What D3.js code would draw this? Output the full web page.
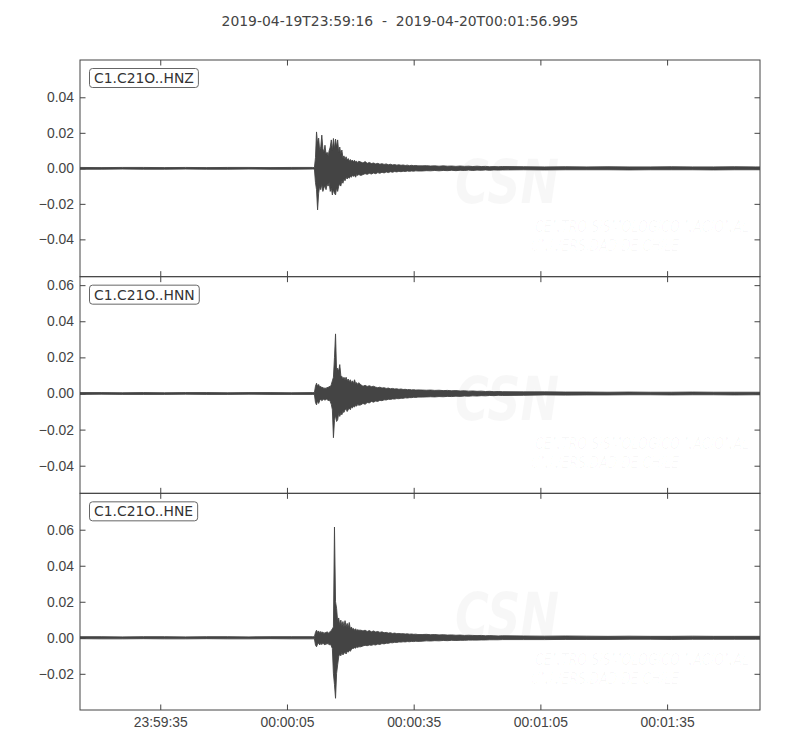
<!DOCTYPE html>
<html>
<head>
<meta charset="utf-8">
<script src="https://cdn.jsdelivr.net/npm/d3@7"></script>
<style>
    body { margin: 0; background: #fff; }
    svg { font-family: "DejaVu Sans", sans-serif; }
    .tick text { fill: #444; font-size: 13.9px; }
    .tick line { stroke: #444; stroke-width: 1; }
    .spine { fill: none; stroke: #444; stroke-width: 1; }
</style>
</head>
<body>
<div id="chart"></div>
<script>
// Seismogram, 3 components

const title = '2019-04-19T23:59:16  -  2019-04-20T00:01:56.995';
const channels = ['C1.C21O..HNZ', 'C1.C21O..HNN', 'C1.C21O..HNE'];
const duration = 160.995;                 // seconds after 23:59:16
const timeTicks = [19, 49, 79, 109, 139];
const timeLabels = ['23:59:35', '00:00:05', '00:00:35', '00:01:05', '00:01:35'];
const yRanges = [[-0.061, 0.061], [-0.0553, 0.0647], [-0.0401, 0.0802]];
const yTicks = [
    [-0.04, -0.02, 0, 0.02, 0.04],
    [-0.04, -0.02, 0, 0.02, 0.04, 0.06],
    [-0.02, 0, 0.02, 0.04, 0.06]
];

// sample times (s), denser where the shaking is
const times = [
    0, 5, 10, 15, 20, 25, 30, 35, 40, 45, 50, 55,
    55.5, 55.75, 56, 56.25, 56.5, 56.75, 57, 57.25, 57.5, 57.75, 58, 58.25, 58.5, 58.75,
    59, 59.25, 59.5, 59.75, 60, 60.25, 60.5, 60.75, 61, 61.25, 61.5, 61.75, 62, 62.25,
    62.5, 62.75, 63, 63.25, 63.5, 63.75, 64, 64.25, 64.5, 64.75, 65, 65.25, 65.5, 65.75, 66,
    66.5, 67, 67.5, 68, 68.5, 69, 69.5, 70, 70.5, 71, 71.5, 72, 72.5, 73, 73.5, 74,
    74.5, 75, 75.5, 76, 76.5, 77, 77.5, 78, 78.5, 79, 79.5, 80,
    81, 82, 83, 84, 85, 86, 87, 88, 89, 90, 91, 92, 93, 94, 95, 96, 97, 98, 99, 100,
    105, 110, 115, 120, 125, 130, 135, 140, 145, 150, 155, 160, 160.995
];

// envelope max / min per sample, in units of 1e-3
const hnzHi = [
    0.5, 0.4, 0.5, 0.5, 0.4, 0.5, 0.4, 0.5, 0.5, 0.4, 0.5, 0.5,
    0.4, 6, 20.5, 14, 17, 10, 12, 18.7, 11, 9, 13, 8, 9, 7, 10, 12, 16, 10, 16.8, 11, 16.5, 12,
    16, 9, 12, 8, 10.3, 6, 7, 5, 6.5, 4.5, 5.5, 4, 5, 4, 4.7, 3.5, 4.5, 3.5, 4, 3.2, 4,
    3.5, 3, 3.8, 2.8, 3.3, 2.7, 3, 2.5, 2.8, 2.3, 2.6, 2.2, 2.5, 2, 2.3, 1.9, 2.1, 1.8, 2, 1.7,
    1.9, 1.6, 1.8, 1.5, 1.7, 1.5, 1.6, 1.4,
    1.4, 1.5, 1.3, 1.4, 1.2, 1.4, 1.2, 1.3, 1.1, 1.3, 1.1, 1.2, 1.0, 1.2, 1.0, 1.1, 0.9, 1.0, 0.9, 1.0,
    0.9, 0.8, 0.9, 0.8, 0.9, 0.8, 0.8, 0.9, 0.8, 0.8, 0.9, 0.8, 0.8
];
const hnzLo = [
    -0.5, -0.5, -0.4, -0.5, -0.5, -0.4, -0.5, -0.5, -0.4, -0.5, -0.5, -0.4,
    -0.4, -8, -12, -23.4, -14, -10, -12, -9, -13, -11, -10, -12, -9, -10, -8, -13, -11, -15, -12,
    -14, -15, -11, -13, -10, -9, -10, -7, -8.4, -6, -7, -5, -6, -5, -5.6, -4.5, -5, -4, -4.5, -4,
    -5, -3.5, -4, -3.5,
    -4, -3.5, -3, -3.4, -2.8, -3.2, -2.6, -3, -2.4, -2.8, -2.2, -2.6, -2, -2.4, -1.9, -2.2, -1.8,
    -2, -1.7, -1.9, -1.6, -1.8, -1.5, -1.7, -1.5, -1.6, -1.4, -1.5,
    -1.5, -1.3, -1.4, -1.2, -1.4, -1.2, -1.3, -1.1, -1.3, -1.1, -1.2, -1.0, -1.2, -1.0, -1.1, -0.9,
    -1.1, -0.9, -1.0, -0.9,
    -0.8, -0.9, -0.8, -0.8, -0.8, -0.9, -0.8, -0.8, -0.8, -0.9, -0.8, -0.8, -0.8
];
const hnnHi = [
    0.5, 0.5, 0.4, 0.5, 0.4, 0.5, 0.5, 0.4, 0.5, 0.5, 0.4, 0.5,
    0.5, 4, 5.7, 4, 5, 3.5, 4, 3, 3.5, 2.5, 3.2, 2.5, 3.5, 3, 4, 3.5, 5, 7, 9, 20, 33, 12, 14,
    12.2, 16, 10, 9.4, 8, 9, 7.5, 9, 7, 8, 6.5, 7.6, 6, 7, 5.5, 7.6, 5.5, 6, 5, 6,
    4.8, 4, 4.5, 3.9, 4.3, 3.8, 4, 3.5, 3.2, 3.5, 3, 3.2, 2.8, 3, 2.6, 2.8, 2.5, 2.6, 2.3, 2.5,
    2.2, 2.3, 2.1, 2.2, 2, 2.1, 1.9, 2,
    1.9, 1.8, 1.9, 1.7, 1.8, 1.6, 1.7, 1.5, 1.6, 1.4, 1.5, 1.3, 1.4, 1.2, 1.3, 1.1, 1.2, 1, 1.1, 1,
    0.9, 0.9, 0.8, 0.8, 0.7, 0.8, 0.7, 0.7, 0.8, 0.7, 0.7, 0.7, 0.7
];
const hnnLo = [
    -0.5, -0.4, -0.5, -0.5, -0.5, -0.4, -0.5, -0.5, -0.4, -0.5, -0.5, -0.5,
    -0.5, -5, -6.3, -4, -5.5, -4, -3, -4, -3.5, -3, -3.8, -3, -3.2, -4, -3.5, -4.5, -6, -9, -24.5,
    -15, -12, -15.5, -14.6, -11, -12.7, -11, -11.8, -10, -10.5, -9, -8.5, -10, -9, -8, -9, -7.5,
    -8, -7, -7.5, -6.5, -7, -6, -6.5,
    -6.3, -5.5, -6, -5, -5.2, -4.4, -4.8, -4.2, -4.4, -3.8, -4, -3.5, -3.6, -3.2, -3.3, -3, -3.1,
    -2.8, -2.9, -2.6, -2.7, -2.4, -2.5, -2.3, -2.3, -2.1, -2.2, -2,
    -2, -1.9, -1.8, -1.9, -1.7, -1.8, -1.6, -1.7, -1.5, -1.6, -1.4, -1.5, -1.3, -1.4, -1.2, -1.3,
    -1.1, -1.2, -1, -1.1,
    -1, -0.8, -0.9, -0.8, -0.8, -0.7, -0.7, -0.8, -0.7, -0.7, -0.8, -0.7, -0.7
];
const hneHi = [
    0.6, 0.6, 0.5, 0.6, 0.6, 0.5, 0.6, 0.6, 0.5, 0.6, 0.6, 0.6,
    0.6, 3, 4.2, 3, 3.8, 2.5, 3.5, 2.8, 3.2, 2.4, 3, 2.6, 3.4, 2.5, 3, 3.5, 4, 5, 6, 61.5, 20,
    16.3, 9, 11, 7, 9.8, 6.5, 9, 6, 9.5, 6, 8, 5.5, 8.5, 5, 6, 4.8, 5.2, 4.2, 5, 4, 4.5, 4.2,
    4.2, 3.8, 4.2, 3.5, 4, 3.3, 3.8, 3.2, 3.5, 3, 3.3, 2.8, 3, 2.6, 2.8, 2.4, 2.6, 2.3, 2.4, 2.2,
    2.3, 2.1, 2.2, 2, 2.1, 1.9, 2, 1.8,
    1.8, 1.9, 1.7, 1.8, 1.6, 1.7, 1.5, 1.6, 1.4, 1.5, 1.3, 1.4, 1.3, 1.2, 1.3, 1.1, 1.2, 1.1, 1, 1.1,
    1, 0.9, 1, 0.9, 0.8, 0.9, 0.8, 0.8, 0.9, 0.8, 0.8, 0.8, 0.8
];
const hneLo = [
    -0.5, -0.6, -0.6, -0.5, -0.6, -0.6, -0.5, -0.6, -0.6, -0.5, -0.6, -0.6,
    -0.6, -4, -5, -3.5, -3, -4, -3.2, -3.8, -3, -3.5, -4, -3.2, -3.6, -3, -4, -3.5, -4.5, -6, -20,
    -26, -33.6, -19.8, -15, -10.5, -9, -10, -8, -9.5, -8.7, -8, -9, -7.5, -8, -7, -7.5, -6.5, -6,
    -5.9, -5.5, -5.8, -5, -5.4, -5,
    -5, -4.5, -4.2, -4.4, -4, -4.2, -3.8, -4, -3.5, -3.7, -3.2, -3.4, -3, -3.1, -2.7, -2.8, -2.5,
    -2.6, -2.3, -2.4, -2.2, -2.3, -2.1, -2.2, -2, -2.1, -1.9, -2,
    -1.9, -1.7, -1.8, -1.6, -1.7, -1.5, -1.6, -1.4, -1.5, -1.4, -1.4, -1.3, -1.3, -1.3, -1.2, -1.2,
    -1.1, -1.1, -1.1, -1,
    -1, -1, -0.9, -0.9, -0.9, -0.8, -0.8, -0.9, -0.8, -0.8, -0.8, -0.8, -0.8
];

const envelopes = [[hnzHi, hnzLo], [hnnHi, hnnLo], [hneHi, hneLo]];

function createSeismogram(containerId) {
    const width = 800, height = 750;
    const margin = { top: 60, right: 40, bottom: 40, left: 80 };
    const plotW = width - margin.left - margin.right;
    const panelH = (height - margin.top - margin.bottom) / channels.length;
    const tickLen = 5.5;
    const ink = '#444';

    d3.select(`#${containerId}`).selectAll('*').remove();

    const svg = d3.select(`#${containerId}`)
        .append('svg')
        .attr('width', width)
        .attr('height', height);

    // Title
    svg.append('text')
        .attr('x', width / 2)
        .attr('y', 26)
        .attr('text-anchor', 'middle')
        .style('font-size', '13.9px')
        .style('fill', ink)
        .style('white-space', 'pre')
        .attr('xml:space', 'preserve')
        .text(title);

    const x = d3.scaleLinear()
        .domain([0, duration])
        .range([margin.left, margin.left + plotW]);

    const yFmt = d3.format('.2f');

    channels.forEach((name, p) => {
        const top = margin.top + p * panelH;
        const y = d3.scaleLinear()
            .domain(yRanges[p])
            .range([top + panelH, top]);

        const [hi, lo] = envelopes[p];
        const samples = times.map((t, i) => ({ t: t, hi: hi[i] * 1e-3, lo: lo[i] * 1e-3 }));

        const g = svg.append('g').attr('class', 'panel');

        g.append('clipPath')
            .attr('id', `clip${p}`)
            .append('rect')
            .attr('x', margin.left)
            .attr('y', top)
            .attr('width', plotW)
            .attr('height', panelH);

        // faint CSN watermark
        const wm = g.append('g')
            .style('fill', '#000')
            .style('fill-opacity', 0.03);
        wm.append('text')
            .attr('x', 455).attr('y', top + 143)
            .attr('textLength', 104).attr('lengthAdjust', 'spacingAndGlyphs')
            .style('font-size', '60px').style('font-weight', 'bold').style('font-style', 'italic')
            .text('CSN');
        wm.append('text')
            .attr('x', 535).attr('y', top + 172)
            .attr('textLength', 214).attr('lengthAdjust', 'spacingAndGlyphs')
            .style('font-size', '15px').style('font-style', 'italic')
            .text('CENTRO SISMOLÓGICO NACIONAL');
        wm.append('text')
            .attr('x', 531).attr('y', top + 191)
            .attr('textLength', 148).attr('lengthAdjust', 'spacingAndGlyphs')
            .style('font-size', '15px').style('font-style', 'italic')
            .text('UNIVERSIDAD DE CHILE');

        // waveform envelope
        const area = d3.area()
            .x(d => x(d.t))
            .y0(d => y(d.lo))
            .y1(d => y(d.hi));

        g.append('path')
            .datum(samples)
            .attr('clip-path', `url(#clip${p})`)
            .attr('d', area)
            .style('fill', ink)
            .style('stroke', ink)
            .style('stroke-width', 0.9)
            .style('stroke-linejoin', 'round');

        // inward ticks on all four sides
        g.append('g')
            .attr('transform', `translate(${margin.left},0)`)
            .call(d3.axisLeft(y).tickValues(yTicks[p]).tickSizeInner(-tickLen).tickSizeOuter(0)
                .tickPadding(6).tickFormat(yFmt))
            .call(a => a.select('.domain').remove());

        g.append('g')
            .attr('transform', `translate(${margin.left + plotW},0)`)
            .call(d3.axisRight(y).tickValues(yTicks[p]).tickSizeInner(-tickLen).tickSizeOuter(0)
                .tickFormat(''))
            .call(a => a.select('.domain').remove());

        g.append('g')
            .attr('transform', `translate(0,${top})`)
            .call(d3.axisTop(x).tickValues(timeTicks).tickSizeInner(-tickLen).tickSizeOuter(0)
                .tickFormat(''))
            .call(a => a.select('.domain').remove());

        const last = p === channels.length - 1;
        g.append('g')
            .attr('transform', `translate(0,${top + panelH})`)
            .call(d3.axisBottom(x).tickValues(timeTicks).tickSizeInner(-tickLen).tickSizeOuter(0)
                .tickPadding(7)
                .tickFormat((d, i) => last ? timeLabels[i] : ''))
            .call(a => a.select('.domain').remove());

        g.append('rect')
            .attr('class', 'spine')
            .attr('x', margin.left)
            .attr('y', top)
            .attr('width', plotW)
            .attr('height', panelH);

        // channel label box
        const label = g.append('g');
        const txt = label.append('text')
            .attr('x', margin.left + 14)
            .attr('y', top + 23)
            .style('font-size', '13.9px')
            .style('fill', '#333')
            .text(name);
        const bb = txt.node().getBBox();
        label.insert('rect', 'text')
            .attr('x', bb.x - 4.5)
            .attr('y', bb.y - 1.5)
            .attr('width', bb.width + 9)
            .attr('height', bb.height + 3)
            .attr('rx', 3)
            .style('fill', '#fff')
            .style('stroke', '#666')
            .style('stroke-width', 1);
    });
}

createSeismogram('chart');
</script>
</body>
</html>
